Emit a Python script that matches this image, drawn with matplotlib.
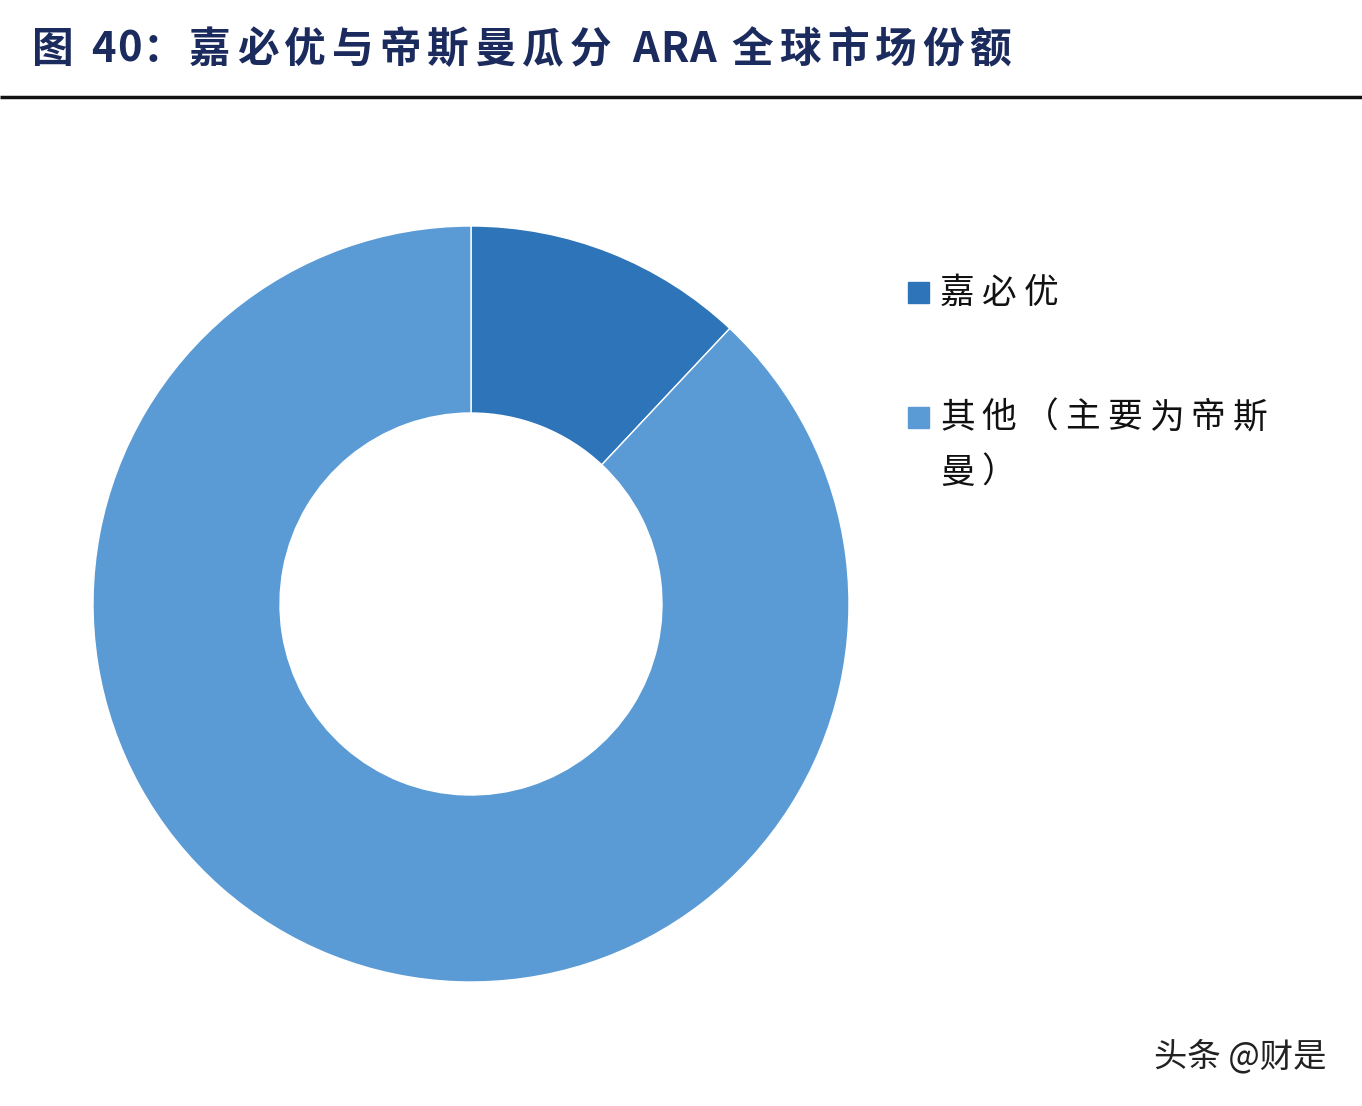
import matplotlib
matplotlib.use("Agg")
import matplotlib.pyplot as plt

plt.rcParams['font.family'] = ['Noto Sans CJK SC', 'DejaVu Sans']

title_head = "图 40："
title_body = "嘉必优与帝斯曼瓜分 ARA 全球市场份额"
labels = ["嘉必优", "其他（主要为帝斯", "曼）"]
shares = [12, 88]
colors = ["#2E74B8", "#5B9BD5"]

W, H = 1362, 1106
fig = plt.figure(figsize=(W / 100, H / 100), dpi=100)
ax = fig.add_axes([0, 0, 1, 1])

ax.pie(shares, colors=colors, startangle=90, counterclock=False,
       center=(471, H - 604), radius=378,
       wedgeprops=dict(width=187, edgecolor="white", linewidth=1))
ax.set_xlim(0, W)
ax.set_ylim(0, H)
ax.set_aspect("equal")
ax.axis("off")

renderer = fig.canvas.get_renderer()


def tracked(x, y, s, size, track, **kw):
    """Draw string char by char (pixel coords, y from top) with extra tracking."""
    for ch in s:
        if ch == " ":
            x += size * 100 / 72 * 0.35
            continue
        t = ax.text(x, H - y, ch, fontsize=size, va="center", ha="left", **kw)
        bb = t.get_window_extent(renderer=renderer)
        x += bb.width + (track if ord(ch) > 255 else 1)
    return x


# title and rule
x = 32
x = tracked(x, 50, title_head, 30, 3, fontweight="bold", color="#1C2B5E")
x = tracked(x + 2, 50, title_body, 30, 6, fontweight="bold", color="#1C2B5E")
ax.plot([0, W], [H - 97, H - 97], color="#111111", lw=2.5, solid_capstyle="butt")

# legend
ax.add_patch(plt.Rectangle((908, H - 293 - 10), 21, 21, color=colors[0]))
tracked(940, 293, labels[0], 25, 7, color="#111111")
ax.add_patch(plt.Rectangle((908, H - 418 - 10), 21, 21, color=colors[1]))
tracked(940, 418, labels[1], 25, 7, color="#111111")
tracked(940, 473, labels[2], 25, 7, color="#111111")

# watermark
ax.text(1240, H - 1057, "头条 @财是", fontsize=24, color="#222222", ha="center", va="center")

fig.savefig("out.png", dpi=100)
